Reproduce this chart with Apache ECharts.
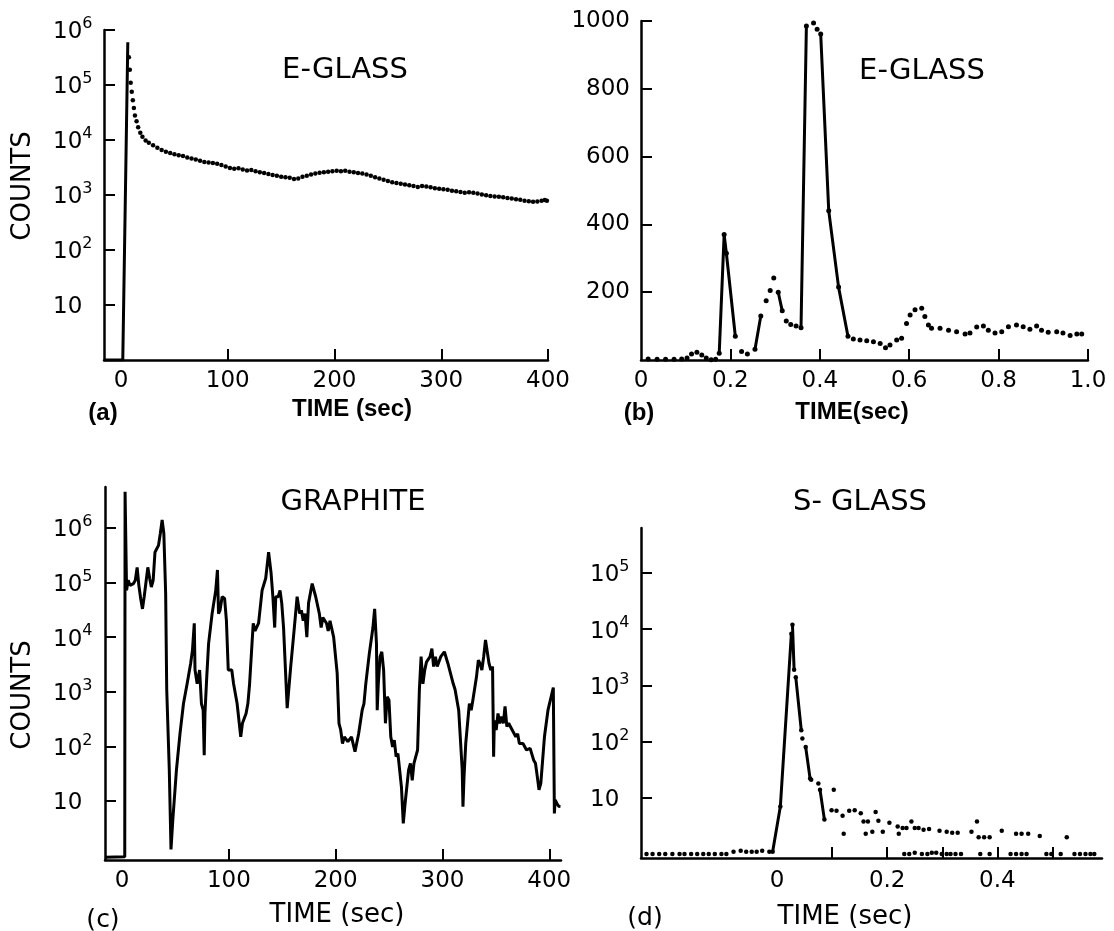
<!DOCTYPE html>
<html><head><meta charset="utf-8">
<script src="https://cdn.jsdelivr.net/npm/echarts@6/dist/echarts.min.js"></script>
<style>html,body{margin:0;padding:0;background:#fff}#c{width:1114px;height:931px}</style>
</head><body><div id="c"></div>
<script>
// ---------- DATA (time, counts) ----------
// (a) E-GLASS, 0-400 s
const aSpike = [[-16,1],[1.6,1],[6.3,6.0e5]];
const aDots = [[7.3,3.2e5],[8.2,1.9e5],[9,1.1e5],[10,7.5e4],[11,5.3e4],[12,3.8e4],[13,2.8e4],[14.5,2.2e4],[16,1.7e4],[18,1.35e4],[20,1.15e4],[23,9.8e3],[26,8.9e3],[30,8.0e3],[34,7.2e3],[38,6.6e3],[42,6.1e3],[46,5.8e3],[50,5.5e3],[54,5.3e3],[58,5.1e3],[62,4.8e3],[66,4.6e3],[70,4.4e3],[74,4.2e3],[78,4.0e3],[82,3.9e3],[86,3.8e3],[90,3.7e3],[94,3.5e3],[98,3.3e3],[102,3.1e3],[106,3.0e3],[110,3.05e3],[114,2.9e3],[118,2.8e3],[122,2.85e3],[126,2.7e3],[130,2.6e3],[134,2.5e3],[138,2.4e3],[142,2.3e3],[146,2.25e3],[150,2.15e3],[154,2.1e3],[158,2.05e3],[162,1.95e3],[166,2.0e3],[170,2.15e3],[174,2.25e3],[178,2.35e3],[182,2.45e3],[186,2.55e3],[190,2.6e3],[194,2.65e3],[198,2.7e3],[202,2.75e3],[206,2.7e3],[210,2.75e3],[214,2.65e3],[218,2.6e3],[222,2.5e3],[226,2.45e3],[230,2.35e3],[234,2.25e3],[238,2.1e3],[242,2.0e3],[246,1.9e3],[250,1.8e3],[254,1.7e3],[258,1.65e3],[262,1.6e3],[266,1.55e3],[270,1.5e3],[274,1.45e3],[278,1.4e3],[282,1.45e3],[286,1.42e3],[290,1.38e3],[294,1.33e3],[298,1.3e3],[302,1.27e3],[306,1.25e3],[310,1.2e3],[314,1.17e3],[318,1.13e3],[322,1.1e3],[326,1.12e3],[330,1.1e3],[334,1.06e3],[338,1.02e3],[342,990],[346,960],[350,940],[354,930],[358,910],[362,880],[366,860],[370,840],[374,820],[378,790],[382,770],[386,750],[390,760],[394,790],[397,810],[399,790]];

// (b) E-GLASS, 0-1 s (linear)
const bPoints = [[0.016,3],[0.036,2],[0.055,2],[0.074,2],[0.091,3],[0.103,6],[0.113,18],[0.125,23],[0.136,15],[0.146,6],[0.157,1],[0.167,2],[0.175,20],[0.186,370],[0.191,315],[0.211,70],[0.225,25],[0.238,18],[0.255,32],[0.268,130],[0.280,175],[0.289,205],[0.297,242],[0.307,200],[0.316,145],[0.325,115],[0.335,105],[0.347,100],[0.358,95],[0.370,985],[0.376,1010],[0.386,994],[0.394,976],[0.402,962],[0.420,440],[0.442,215],[0.463,70],[0.475,62],[0.490,59],[0.505,57],[0.520,54],[0.535,49],[0.547,36],[0.557,44],[0.572,59],[0.583,64],[0.594,108],[0.602,133],[0.613,148],[0.628,153],[0.635,128],[0.643,103],[0.650,94],[0.669,94],[0.688,88],[0.706,83],[0.725,77],[0.736,80],[0.751,97],[0.766,100],[0.777,88],[0.792,80],[0.807,83],[0.822,98],[0.840,103],[0.855,98],[0.870,91],[0.885,100],[0.896,88],[0.911,82],[0.930,83],[0.944,80],[0.960,72],[0.975,77],[0.986,77]];

// (c) GRAPHITE, 0-410 s
const cPoints = [[-15.5,0.93],[2.5,0.95],[2.8,4.6e6],[4.2,7.2e4],[5.7,1.1e5],[7.4,8.9e4],[10.7,9.6e4],[12.4,1.1e5],[14.1,1.9e5],[15.7,8.9e4],[17.4,5.1e4],[19.1,3.3e4],[20.7,5.5e4],[22.4,5.9e4],[24.1,1.9e5],[25.8,1.2e5],[27.4,8.3e4],[29.1,1.1e5],[30.8,3.6e5],[32.5,3.9e5],[34.1,4.8e5],[35.8,7.9e5],[37.5,1.4e6],[39.1,7.9e5],[40.8,6.3e4],[41.8,1.1e3],[44.2,37],[45.8,1.3],[47.5,4.5],[50.9,37],[54.2,170],[57.5,610],[60.9,1.4e3],[64.2,3.3e3],[65.9,5.8e3],[67.6,1.8e4],[68.3,2.5e3],[70.3,1.4e3],[72.6,2.5e3],[74.3,610],[75.9,460],[76.9,69],[77.6,400],[79.3,1.9e3],[81.0,7.6e3],[84.3,2.7e4],[87.7,7.2e4],[89.3,1.7e5],[90.3,2.7e4],[91.7,3.1e4],[93.7,5.5e4],[96.0,5.1e4],[97.7,2.0e4],[99.4,2.5e3],[102.7,2.5e3],[104.4,1.4e3],[107.7,610],[111.1,150],[112.7,265],[116.1,400],[117.8,610],[119.4,1.4e3],[122.8,1.8e4],[124.5,1.3e4],[126.1,1.3e4],[127.8,1.8e4],[131.1,7.2e4],[134.5,1.2e5],[137.2,3.6e5],[139.5,1.5e5],[141.2,5.5e4],[142.9,1.5e4],[143.9,5.5e4],[146.2,5.5e4],[147.9,7.2e4],[149.5,4.2e4],[151.2,1.5e4],[154.6,500],[157.9,2.9e3],[161.3,1.5e4],[163.9,5.5e4],[166.3,2.7e4],[167.9,3.1e4],[169.6,2.0e4],[171.3,2.7e4],[173.0,1.0e4],[174.6,4.2e4],[178.0,9.6e4],[179.7,7.2e4],[181.3,5.5e4],[184.7,2.7e4],[186.4,1.5e4],[188.0,2.3e4],[191.4,1.8e4],[193.0,1.3e4],[194.7,2.0e4],[198.1,1.0e4],[201.4,2.2e3],[203.1,265],[204.7,200],[206.4,113],[208.1,150],[211.4,122],[214.8,150],[218.1,80],[221.5,170],[224.8,460],[226.5,610],[228.2,1.4e3],[231.5,5.0e3],[234.9,1.5e4],[236.5,3.3e4],[238.2,7.6e3],[238.9,460],[239.9,1.4e3],[241.6,4.4e3],[243.2,5.4e3],[244.9,2.5e3],[246.6,265],[248.2,810],[249.9,710],[251.6,150],[253.3,98],[254.9,130],[256.6,65],[258.3,74],[261.6,18],[263.3,3.9],[265.0,9],[268.3,37],[270.0,49],[271.7,24],[273.3,49],[275.0,65],[276.7,86],[278.4,1.1e3],[280.0,4.4e3],[281.7,1.4e3],[283.4,2.5e3],[285.0,3.5e3],[288.4,4.4e3],[290.1,6.2e3],[291.7,2.9e3],[293.4,4.4e3],[295.1,2.9e3],[298.4,4.4e3],[301.8,5.4e3],[305.1,3.3e3],[306.8,3.5e3],[310.1,1.4e3],[311.8,1.1e3],[315.2,460],[318.5,37],[319.2,7.9],[320.2,28],[321.8,113],[323.5,265],[325.2,610],[326.9,460],[328.5,710],[331.9,1.9e3],[333.6,3.8e3],[335.2,3.3e3],[336.9,2.5e3],[338.6,4.4e3],[340.3,8.9e3],[341.9,8.5e3],[343.6,3.3e3],[345.3,2.5e3],[346.9,2.9e3],[347.9,65],[348.6,300],[350.3,200],[352.0,400],[353.6,265],[355.3,350],[357.0,265],[358.6,540],[360.3,230],[362.0,265],[365.3,200],[368.7,150],[370.4,170],[372.0,113],[375.4,113],[378.7,86],[382.1,92],[385.4,56],[387.1,49],[388.8,28],[390.4,16],[392.1,21],[395.5,150],[398.8,460],[403.8,1.2e3],[404.8,5.9],[405.5,10.5],[407.2,9],[408.8,8],[410.5,7.9]];

// (d) S-GLASS
const dTrace = [[-0.237,1],[-0.226,1],[-0.214,1],[-0.203,1],[-0.190,1],[-0.177,1],[-0.168,1],[-0.156,1],[-0.145,1],[-0.134,1],[-0.124,1],[-0.113,1],[-0.101,1],[-0.092,1],[-0.079,1.1],[-0.066,1.15],[-0.056,1.1],[-0.046,1.1],[-0.037,1.1],[-0.027,1.15],[-0.014,1.1],[-0.008,1.1],[0.006,7],[0.026,8300],[0.028,12000],[0.031,1900],[0.034,1400],[0.044,160],[0.046,114],[0.052,80],[0.060,22],[0.062,21],[0.075,18],[0.078,14],[0.086,4.1]];
const dTail = [[0.099,6],[0.103,14],[0.108,5.9],[0.119,4.8],[0.121,2.3],[0.131,5.9],[0.141,6],[0.152,5.3],[0.157,3.8],[0.161,2.3],[0.165,3.8],[0.173,2.5],[0.179,5.6],[0.184,3.9],[0.192,2.5],[0.204,3.6],[0.219,3.1],[0.221,2.3],[0.228,2.9],[0.235,2.9],[0.244,3.8],[0.250,2.9],[0.257,2.9],[0.266,2.7],[0.276,2.8],[0.295,2.6],[0.308,2.5],[0.318,2.4],[0.328,2.4],[0.353,2.5],[0.363,3.8],[0.366,2.0],[0.376,2.0],[0.386,2.0],[0.408,2.6],[0.434,2.3],[0.444,2.3],[0.456,2.3],[0.477,2.1],[0.526,2.0]];
const dBase = [[0.231,1],[0.240,1],[0.250,1.05],[0.263,1],[0.273,1],[0.281,1.05],[0.289,1.05],[0.299,1],[0.308,1],[0.315,1],[0.324,1],[0.334,1],[0.369,1],[0.386,1],[0.424,1],[0.434,1],[0.444,1],[0.453,1],[0.489,1],[0.498,1],[0.515,1],[0.540,1],[0.550,1],[0.560,1],[0.569,1],[0.576,1]];

// tick / label values
const aXTicks = [100,200,300,400], aXLabels = [0,100,200,300,400];
const logTicks6 = [1,2,3,4,5,6], logTicks5 = [1,2,3,4,5];   // exponents of 10
const bXTicks = [0.2,0.4,0.6,0.8,1.0], bXLabels = [0,0.2,0.4,0.6,0.8,1.0];
const bYTicks = [200,400,600,800,1000];
const dXTicks = [0.1,0.2,0.3,0.4,0.5], dXLabels = [0,0.2,0.4];

// ---------- helpers ----------
const K = '#000', F = 'DejaVu Sans';
const lg = p => p[1] === '-' ? p : [p[0], Math.log10(p[1])];
function steep(pts, thr, f) {
  const out = []; let open = false;
  for (let i = 0; i < pts.length - 1; i++) {
    const a = pts[i], b = pts[i + 1];
    if (Math.abs(f(b[1]) - f(a[1])) > thr) {
      if (!open) { out.push(a); open = true; }
      out.push(b);
    } else if (open) { out.push([b[0], '-']); open = false; }
  }
  return out;
}
function xAx(gi, min, max, ticks, labels, fmt, margin) {
  return {type:'value', gridIndex:gi, min, max, position:'bottom',
    axisLine:{show:true, onZero:false, lineStyle:{color:K, width:2.5}},
    axisTick:{show:true, inside:true, length:11, customValues:ticks, lineStyle:{color:K, width:2}},
    axisLabel:{show:true, customValues:labels, formatter:fmt, margin, color:K, fontFamily:F, fontSize:23},
    splitLine:{show:false}};
}
function yLog(gi, min, max, ticks, margin) {
  return {type:'value', gridIndex:gi, min, max, position:'left',
    axisLine:{show:true, onZero:false, lineStyle:{color:K, width:2.5}},
    axisTick:{show:true, inside:true, length:11, customValues:ticks, lineStyle:{color:K, width:2}},
    axisLabel:{show:true, customValues:ticks, margin, align:'left',
      formatter: v => { const e = Math.round(v); return e === 1 ? '{b|10}' : '{b|10}{s|' + e + '}'; },
      rich:{b:{fontFamily:F, fontSize:23, color:K, lineHeight:28, verticalAlign:'bottom'},
            s:{fontFamily:F, fontSize:16, color:K, lineHeight:12, verticalAlign:'top'}}},
    splitLine:{show:false}};
}
const dot = (gi, data, size) => ({type:'scatter', xAxisIndex:gi, yAxisIndex:gi, data, symbol:'circle',
  symbolSize:size, itemStyle:{color:K, opacity:1}, silent:true});
const line = (gi, data, w, clip) => ({type:'line', xAxisIndex:gi, yAxisIndex:gi, data, showSymbol:false,
  symbol:'none', connectNulls:false, clip, lineStyle:{color:K, width:w}, silent:true});
const txt = (x, y, text, font, rot) => ({type:'text', x, y, rotation:rot || 0, silent:true,
  style:{text, font, fill:K, align:'center', verticalAlign:'middle', textAlign:'center', textVerticalAlign:'middle'}});

const numFmt = v => v === 0 ? '0' : v.toFixed(1);

const option = {
  animation:false, backgroundColor:'#fff',
  grid:[
    {left:104, top:30, width:444, height:330, containLabel:false, outerBoundsMode:'none'},
    {left:641, top:21, width:447, height:339, containLabel:false, outerBoundsMode:'none'},
    {left:105, top:487, width:456, height:373, containLabel:false, outerBoundsMode:'none'},
    {left:641, top:528, width:461, height:330, containLabel:false, outerBoundsMode:'none'}
  ],
  xAxis:[
    xAx(0, -16, 400, aXTicks, aXLabels, v => String(v), 10),
    xAx(1, 0, 1, bXTicks, bXLabels, numFmt, 10),
    xAx(2, -16, 411, aXTicks, aXLabels, v => String(v), 10),
    xAx(3, -0.247, 0.59, dXTicks, dXLabels, numFmt, 12)
  ],
  yAxis:[
    yLog(0, 0, 6, logTicks6, 51),
    {type:'value', gridIndex:1, min:0, max:1000, position:'left',
      axisLine:{show:true, onZero:false, lineStyle:{color:K, width:2.5}},
      axisTick:{show:true, inside:true, length:11, customValues:bYTicks, lineStyle:{color:K, width:2}},
      axisLabel:{show:true, customValues:bYTicks, margin:11, color:K, fontFamily:F, fontSize:23, formatter: v => String(v)},
      splitLine:{show:false}},
    yLog(2, -0.08, 6.75, logTicks6, 52),
    yLog(3, -0.07, 5.8, logTicks5, 51)
  ],
  series:[
    line(0, aSpike.map(lg), 3, true),
    dot(0, aDots.map(lg), 4.5),
    line(1, steep(bPoints, 48, v => v), 3, true),
    dot(1, bPoints, 5),
    line(2, cPoints.map(lg), 3, false),
    line(3, steep(dTrace, 0.3, Math.log10).map(lg), 3, true),
    dot(3, dTrace.map(lg), 4.5),
    dot(3, dTail.map(lg), 4.5),
    dot(3, dBase.map(lg), 4.5)
  ],
  graphic:{elements:[
    txt(345, 70, 'E-GLASS', '29px "DejaVu Sans"'),
    txt(922, 71, 'E-GLASS', '29px "DejaVu Sans"'),
    txt(353, 502, 'GRAPHITE', '29px "DejaVu Sans"'),
    txt(860, 502, 'S- GLASS', '29px "DejaVu Sans"'),
    txt(23, 186, 'COUNTS', '26px "DejaVu Sans"', Math.PI / 2),
    txt(23, 695, 'COUNTS', '26px "DejaVu Sans"', Math.PI / 2),
    txt(352, 409, 'TIME (sec)', 'bold 24px "Liberation Sans"'),
    txt(852, 412, 'TIME(sec)', 'bold 24px "Liberation Sans"'),
    txt(103, 413, '(a)', 'bold 24px "Liberation Sans"'),
    txt(639, 413, '(b)', 'bold 24px "Liberation Sans"'),
    txt(337, 915, 'TIME (sec)', '26px "DejaVu Sans"'),
    txt(845, 917, 'TIME (sec)', '26px "DejaVu Sans"'),
    txt(103, 920, '(c)', '25px "DejaVu Sans"'),
    txt(645, 918, '(d)', '25px "DejaVu Sans"')
  ]}
};
const chart = echarts.init(document.getElementById('c'));
chart.setOption(option);
</script>
</body></html>
